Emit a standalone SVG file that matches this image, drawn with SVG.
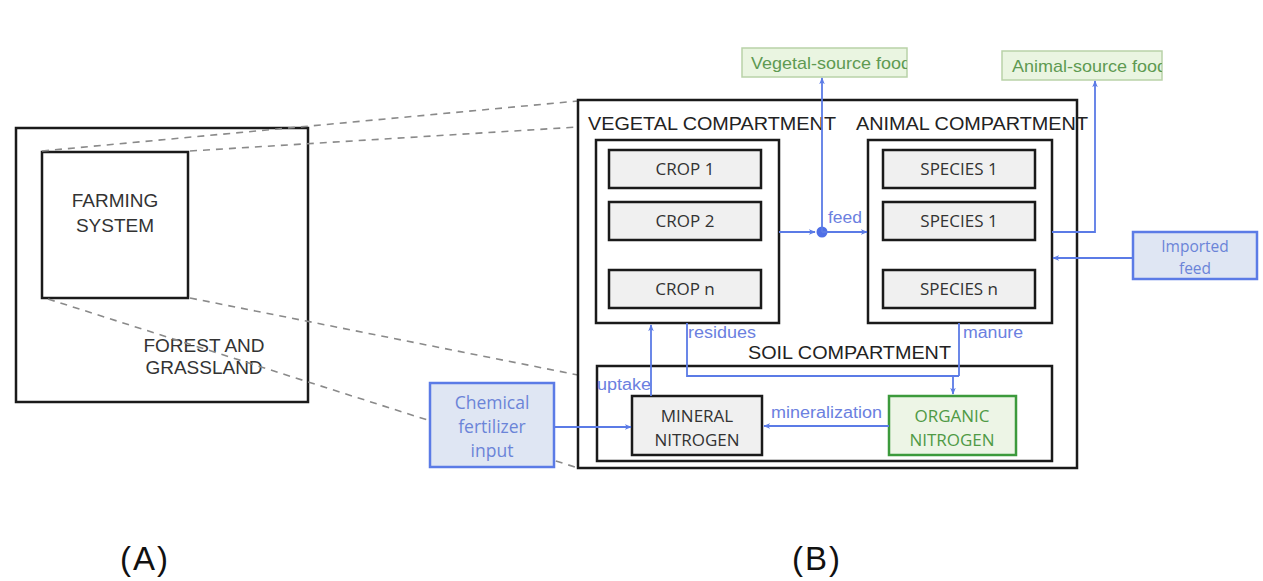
<svg xmlns="http://www.w3.org/2000/svg" width="1263" height="581" viewBox="0 0 1263 581">
<style>
.box{fill:none;stroke:#1a1a1a;stroke-width:2.5}
.inner{fill:#f0f0f0;stroke:#1a1a1a;stroke-width:2.5}
.hdr{font-family:"Liberation Sans",Arial,sans-serif;font-size:18px;fill:#222}
.lbl{font-family:"Liberation Sans",Arial,sans-serif;font-size:19px;fill:#333}
.cal{font-family:"Open Sans","Noto Sans",sans-serif;font-size:17px;fill:#333}
.dash{stroke:#8a8a8a;stroke-width:1.6;stroke-dasharray:7 6;fill:none}
.con{stroke:#5b7be6;stroke-width:1.8;fill:none}
.clbl{font-family:"Liberation Sans",Arial,sans-serif;font-size:16px;fill:#6b80e0}
.blue{fill:#dfe6f3;stroke:#5b7be6;stroke-width:2.5}
.bluet{font-family:"Open Sans","Noto Sans",sans-serif;font-size:17.5px;fill:#6b84d8}
.bluesm{font-family:"Open Sans","Noto Sans",sans-serif;font-size:15.5px;fill:#6b84d8}
.food{fill:#eaf5e1;stroke:#b9d2a8;stroke-width:1.5}
.foodt{font-family:"Liberation Sans",Arial,sans-serif;font-size:17px;fill:#5e9a52}
.big{font-family:"Liberation Sans",Arial,sans-serif;font-size:33px;fill:#111;letter-spacing:2px}
.green{fill:#4f9a45}
</style>
<defs>
<marker id="ah" viewBox="0 0 10 10" refX="9" refY="5" markerWidth="7" markerHeight="7" orient="auto-start-reverse" markerUnits="userSpaceOnUse">
<path d="M0,1 L10,5 L0,9 L3,5 Z" fill="#5b7be6"/>
</marker>
<clipPath id="cvf"><rect x="742" y="48" width="165" height="29"/></clipPath>
<clipPath id="caf"><rect x="1002" y="50" width="160" height="30"/></clipPath>
</defs>
<rect width="1263" height="581" fill="#fff"/>

<g id="forest">
<rect class="box" x="16" y="128" width="292" height="274"/>
<text class="lbl" x="204" y="352" text-anchor="middle">FOREST AND</text>
<text class="lbl" x="204" y="374" text-anchor="middle">GRASSLAND</text>
</g>
<g id="farming">
<rect class="box" x="42" y="152" width="146" height="146"/>
<text class="lbl" x="115" y="207" text-anchor="middle">FARMING</text>
<text class="lbl" x="115" y="232" text-anchor="middle">SYSTEM</text>
</g>

<g id="zoomlines">
<line class="dash" x1="42" y1="151" x2="578" y2="101"/>
<line class="dash" x1="190" y1="151" x2="578" y2="127"/>
<line class="dash" x1="190" y1="298" x2="578" y2="375"/>
<line class="dash" x1="48" y1="299" x2="578" y2="468"/>
</g>

<g id="systemB">
<rect class="box" x="578" y="100" width="499" height="368" fill="#fff"/>
</g>

<g id="vegetal">
<text class="hdr" x="588" y="130" textLength="248" lengthAdjust="spacingAndGlyphs">VEGETAL COMPARTMENT</text>
<rect class="box" x="596" y="140" width="183" height="183"/>
</g>
<g id="crop1"><rect class="inner" x="609" y="150" width="152" height="38"/><text class="cal" x="685" y="175" text-anchor="middle">CROP 1</text></g>
<g id="crop2"><rect class="inner" x="609" y="202" width="152" height="38"/><text class="cal" x="685" y="227" text-anchor="middle">CROP 2</text></g>
<g id="cropn"><rect class="inner" x="609" y="270" width="152" height="38"/><text class="cal" x="685" y="295" text-anchor="middle">CROP n</text></g>

<g id="animal">
<text class="hdr" x="856" y="130" textLength="232" lengthAdjust="spacingAndGlyphs">ANIMAL COMPARTMENT</text>
<rect class="box" x="868" y="140" width="184" height="183"/>
</g>
<g id="species1a"><rect class="inner" x="883" y="150" width="152" height="38"/><text class="cal" x="959" y="175" text-anchor="middle">SPECIES 1</text></g>
<g id="species1b"><rect class="inner" x="883" y="202" width="152" height="38"/><text class="cal" x="959" y="227" text-anchor="middle">SPECIES 1</text></g>
<g id="speciesn"><rect class="inner" x="883" y="270" width="152" height="38"/><text class="cal" x="959" y="295" text-anchor="middle">SPECIES n</text></g>

<g id="soil">
<text class="hdr" x="748" y="359" textLength="203" lengthAdjust="spacingAndGlyphs">SOIL COMPARTMENT</text>
<rect class="box" x="597" y="366" width="455" height="95"/>
</g>
<g id="mineral"><rect class="inner" x="632" y="396" width="130" height="59"/><text class="cal" x="697" y="422" text-anchor="middle">MINERAL</text><text class="cal" x="697" y="446" text-anchor="middle">NITROGEN</text></g>
<g id="organic"><rect x="889" y="396" width="127" height="59" fill="#edf5e6" stroke="#3c9a3c" stroke-width="2.5"/><text class="cal green" x="952" y="422" text-anchor="middle">ORGANIC</text><text class="cal green" x="952" y="446" text-anchor="middle">NITROGEN</text></g>

<g id="chemical"><rect class="blue" x="430" y="383" width="124" height="84"/><text class="bluet" x="492" y="409" text-anchor="middle">Chemical</text><text class="bluet" x="492" y="433" text-anchor="middle">fertilizer</text><text class="bluet" x="492" y="457" text-anchor="middle">input</text></g>
<g id="imported"><rect class="blue" x="1133" y="232" width="124" height="47"/><text class="bluesm" x="1195" y="252" text-anchor="middle">Imported</text><text class="bluesm" x="1195" y="274" text-anchor="middle">feed</text></g>
<g id="vegfood"><rect class="food" x="742" y="48" width="165" height="29"/><text class="foodt" x="751" y="69" textLength="160" lengthAdjust="spacingAndGlyphs" clip-path="url(#cvf)">Vegetal-source food</text></g>
<g id="animfood"><rect class="food" x="1002" y="51" width="160" height="29"/><text class="foodt" x="1012" y="72" textLength="155" lengthAdjust="spacingAndGlyphs" clip-path="url(#caf)">Animal-source food</text></g>

<g id="connectors">
<line class="con" x1="779" y1="232" x2="815" y2="232" marker-end="url(#ah)"/>
<circle cx="822" cy="232" r="5.5" fill="#4f6fe6"/>
<line class="con" x1="822" y1="232" x2="867" y2="232" marker-end="url(#ah)"/>
<line class="con" x1="822" y1="232" x2="822" y2="78" marker-end="url(#ah)"/>
<polyline class="con" points="1052,232 1095,232 1095,81" marker-end="url(#ah)"/>
<line class="con" x1="1133" y1="258" x2="1053" y2="258" marker-end="url(#ah)"/>
<polyline class="con" points="687,323 687,376 959,376"/>
<line class="con" x1="959" y1="323" x2="959" y2="376"/>
<line class="con" x1="953" y1="376" x2="953" y2="394" marker-end="url(#ah)"/>
<line class="con" x1="651" y1="396" x2="651" y2="325" marker-end="url(#ah)"/>
<line class="con" x1="889" y1="426" x2="764" y2="426" marker-end="url(#ah)"/>
<line class="con" x1="554" y1="427" x2="631" y2="427" marker-end="url(#ah)"/>
<text class="clbl" x="828" y="223" textLength="34" lengthAdjust="spacingAndGlyphs">feed</text>
<text class="clbl" x="688" y="338" textLength="68" lengthAdjust="spacingAndGlyphs">residues</text>
<text class="clbl" x="963" y="338" textLength="60" lengthAdjust="spacingAndGlyphs">manure</text>
<text class="clbl" x="597" y="390" textLength="54" lengthAdjust="spacingAndGlyphs">uptake</text>
<text class="clbl" x="771" y="418" textLength="111" lengthAdjust="spacingAndGlyphs">mineralization</text>
</g>

<text class="big" x="120" y="570">(A)</text>
<text class="big" x="792" y="570">(B)</text>
</svg>
